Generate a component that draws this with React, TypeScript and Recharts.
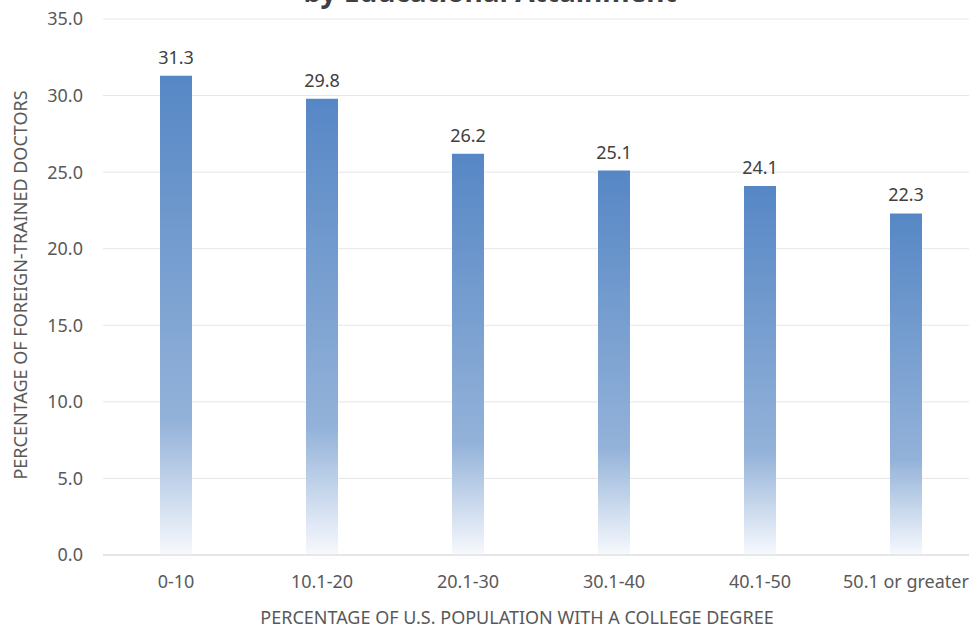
import React from 'react';
import { Bar, BarChart, CartesianGrid, LabelList, XAxis, YAxis } from 'recharts';

const categories = ['0-10', '10.1-20', '20.1-30', '30.1-40', '40.1-50', '50.1 or greater'];
const shares = [31.3, 29.8, 26.2, 25.1, 24.1, 22.3];
const yTicks = [0, 5, 10, 15, 20, 25, 30, 35];

const data = categories.map((c, i) => ({ name: c, value: shares[i] }));

const FONT = '"Noto Sans", sans-serif';
const GREY = '#595959';

export default function App() {
  return (
    <div style={{ position: 'fixed', left: 0, top: 0, width: 969, height: 629, overflow: 'hidden', background: '#fff' }}>
      <BarChart
        width={990}
        height={629}
        data={data}
        barSize={32}
        margin={{ top: 19, right: 11, left: 0, bottom: 44 }}
        style={{ fontFamily: FONT }}
      >
        <defs>
          <linearGradient id="barFade" x1="0" y1="0" x2="0" y2="1">
            <stop offset="0%" stopColor="#5687c5" />
            <stop offset="72%" stopColor="#93b2d9" />
            <stop offset="100%" stopColor="#f7f9fd" />
          </linearGradient>
        </defs>
        {/* title sits mostly above the visible area, as in the source crop */}
        <text x={490} y={2} textAnchor="middle" fontSize={28} fontWeight={700} fill="#404040" fontFamily={FONT}>
          by Educational Attainment
        </text>
        <CartesianGrid vertical={false} stroke="#e6e6e6" />
        <XAxis
          dataKey="name"
          axisLine={{ stroke: '#d9d9d9' }}
          tickLine={false}
          tickMargin={14}
          tick={{ fontSize: 18, fill: GREY, fontFamily: FONT }}
          interval={0}
        />
        <YAxis
          width={103}
          domain={[0, 35]}
          ticks={yTicks}
          tickFormatter={(v) => v.toFixed(1)}
          axisLine={false}
          tickLine={false}
          tickMargin={14}
          tick={{ fontSize: 18, fill: GREY, fontFamily: FONT }}
        />
        <Bar dataKey="value" fill="url(#barFade)" isAnimationActive={false}>
          <LabelList dataKey="value" position="top" offset={12} fontSize={18} fill="#404040" fontFamily={FONT} formatter={(v: any) => Number(v).toFixed(1)} />
        </Bar>
        <text x={20} y={285} textAnchor="middle" fontSize={18} fill={GREY} fontFamily={FONT} transform="rotate(-90 20 285)" dominantBaseline="central">
          PERCENTAGE OF FOREIGN-TRAINED DOCTORS
        </text>
        <text x={517} y={617} textAnchor="middle" fontSize={18} fill={GREY} fontFamily={FONT} dominantBaseline="central">
          PERCENTAGE OF U.S. POPULATION WITH A COLLEGE DEGREE
        </text>
      </BarChart>
    </div>
  );
}
